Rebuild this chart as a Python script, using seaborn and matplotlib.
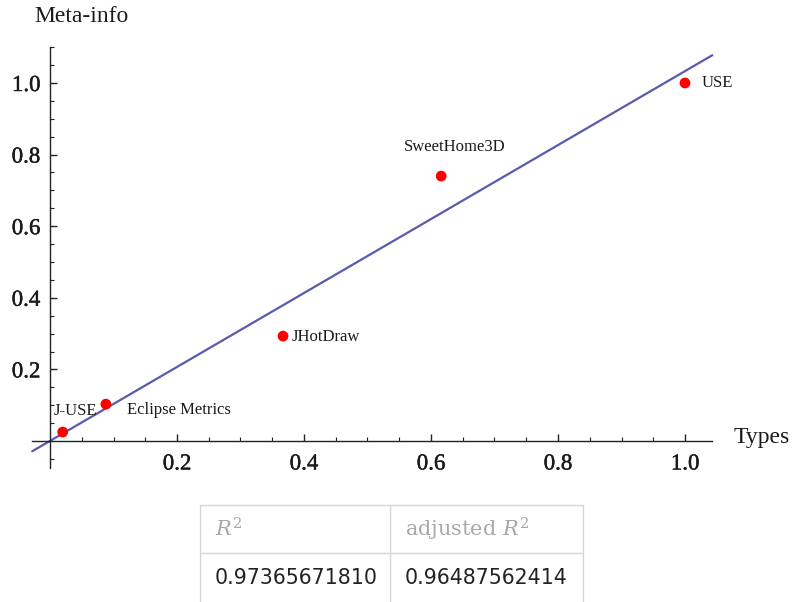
import matplotlib
matplotlib.use("Agg")
import matplotlib.pyplot as plt
import matplotlib.patheffects as pe
import seaborn as sns
import numpy as np
import pandas as pd
from matplotlib.ticker import FixedLocator
from matplotlib.lines import Line2D

# ---- data ----
projects = ["J-USE", "Eclipse Metrics", "JHotDraw", "SweetHome3D", "USE"]
types = [0.020, 0.088, 0.367, 0.616, 1.0]
meta_info = [0.025, 0.103, 0.293, 0.740, 1.0]
table_headers = ["$R^2$", "adjusted $R^2$"]
table_values = ["0.97365671810", "0.96487562414"]
x_ticks = [0.2, 0.4, 0.6, 0.8, 1.0]
y_ticks = [0.2, 0.4, 0.6, 0.8, 1.0]

df = pd.DataFrame({"Types": types, "Meta": meta_info, "Project": projects})

sns.set_theme(style="white")
plt.rcParams["font.family"] = ["Liberation Serif", "DejaVu Serif"]
plt.rcParams["mathtext.fontset"] = "dejavuserif"

fig = plt.figure(figsize=(7.92, 6.02), dpi=100)
W, H = 792, 602
x0_px, xscale = 50, 635.0
y0_px, yscale = 441, 358.0
xlim = (-0.03, 1.06)
ylim = (-0.08, 1.12)
left = x0_px + xlim[0] * xscale
right = x0_px + xlim[1] * xscale
top = y0_px - ylim[1] * yscale
bottom = y0_px - ylim[0] * yscale
ax = fig.add_axes([left / W, 1 - bottom / H, (right - left) / W, (bottom - top) / H])

txt_c = "#1a1a1a"
bold_fx = [pe.withStroke(linewidth=0.3, foreground=txt_c)]
line_color = "#5a5aae"

ax.set_xlim(-0.028, 1.043)
sns.regplot(data=df, x="Types", y="Meta", ax=ax, ci=None, truncate=False,
            scatter=False, line_kws=dict(color=line_color, lw=1.6, zorder=2))
sns.scatterplot(data=df, x="Types", y="Meta", ax=ax, color="#ff0000", s=60,
                edgecolor="none", zorder=3, legend=False)
ax.set_xlim(*xlim)
ax.set_ylim(*ylim)

offsets = {
    "J-USE": (9, 15, "center", "center"),
    "Eclipse Metrics": (15, -4.5, "left", "center"),
    "JHotDraw": (6, -0.5, "left", "center"),
    "SweetHome3D": (10, 21, "center", "center"),
    "USE": (12, 0, "left", "center"),
}
for p, x, y in zip(projects, types, meta_info):
    dx, dy, ha, va = offsets[p]
    ax.annotate(p, (x, y), xytext=(dx, dy), textcoords="offset points",
                ha=ha, va=va, fontsize=12, color=txt_c)

for s in ["top", "right"]:
    ax.spines[s].set_visible(False)
ax.spines["left"].set_position(("data", 0))
ax.spines["bottom"].set_position(("data", 0))
ax.spines["left"].set_bounds(-0.075, 1.10)
ax.spines["bottom"].set_bounds(-0.028, 1.043)
for s in ["left", "bottom"]:
    ax.spines[s].set_color("#222222")
    ax.spines[s].set_linewidth(1.0)

def is_major(v):
    return abs(v / 0.2 - round(v / 0.2)) < 1e-6

ax.xaxis.set_major_locator(FixedLocator(x_ticks))
ax.yaxis.set_major_locator(FixedLocator(y_ticks))
ax.xaxis.set_minor_locator(FixedLocator([v for v in np.arange(0.05, 1.05, 0.05) if not is_major(v)]))
ax.yaxis.set_minor_locator(FixedLocator([-0.05] + [v for v in np.arange(0.05, 1.11, 0.05) if not is_major(v)]))
ax.set_xticklabels([f"{v:.1f}" for v in x_ticks])
ax.set_yticklabels([f"{v:.1f}" for v in y_ticks])
ax.tick_params(which="major", direction="in", length=5, width=1.0, color="#222222",
               labelsize=16.5, labelcolor=txt_c)
ax.tick_params(which="minor", direction="in", length=3, width=0.8, color="#222222")
ax.tick_params(axis="x", which="major", pad=9)
ax.tick_params(axis="y", which="major", pad=7)
ax.tick_params(axis="both", which="both", bottom=True, left=True)
for lab in ax.get_xticklabels() + ax.get_yticklabels():
    lab.set_path_effects(bold_fx)
ax.set_xlabel("")
ax.set_ylabel("")
ax.grid(False)

fig.text(81 / W, 1 - 17 / H, "Meta-info", ha="center", va="center", fontsize=17, color=txt_c)
fig.text(762 / W, 1 - 438 / H, "Types", ha="center", va="center", fontsize=17, color=txt_c)

# table
grid_c = "#d6d6d6"
tx = [200, 390, 583]
ty = [505, 553, 602]
for yy in ty[:2]:
    fig.add_artist(Line2D([tx[0] / W, tx[2] / W], [1 - yy / H, 1 - yy / H], color=grid_c, lw=1.0))
for xx in tx:
    fig.add_artist(Line2D([xx / W, xx / W], [1 - ty[0] / H, 0], color=grid_c, lw=1.0))
for i, (h, v) in enumerate(zip(table_headers, table_values)):
    fig.text((tx[i] + 15) / W, 1 - 529 / H, h, ha="left", va="center", fontsize=15,
             color="#a8a8a8", family=["DejaVu Serif"])
    fig.text((tx[i] + 15) / W, 1 - 578 / H, v, ha="left", va="center", fontsize=14.8,
             color="#222222", family=["DejaVu Sans"])

fig.savefig("out.png", dpi=100)
